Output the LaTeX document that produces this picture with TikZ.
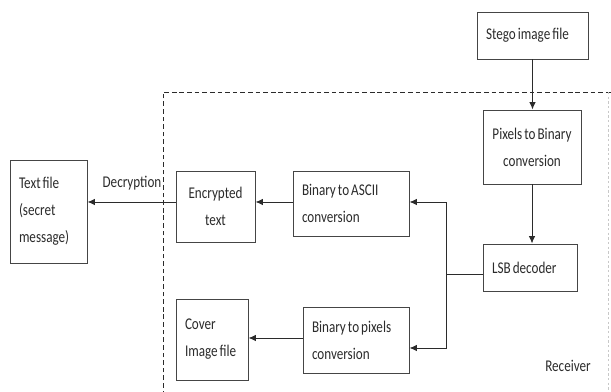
\documentclass[tikz,border=0pt]{standalone}
\usepackage{fontspec}
\setmainfont{Carlito}[FakeStretch=0.8, WordSpace=0.7]
\usetikzlibrary{arrows.meta,calc}
\definecolor{StegoInk}{HTML}{2B2B2B}
\definecolor{StegoEdge}{HTML}{454545}
\definecolor{StegoFaint}{HTML}{C8C8C8}
\tikzset{
  blockbox/.style={draw=StegoEdge, line width=0.8pt, fill=white, align=left,
                   inner xsep=0.27cm, font=\fontsize{14}{23}\selectfont\color{StegoInk},
                   execute at begin node={\spaceskip=0pt\xspaceskip=0pt}},
  centerbox/.style={blockbox, align=center},
  arrow/.style={-{Latex[length=2.2mm,width=1.9mm]}, line width=0.8pt, StegoInk},
  plainline/.style={line width=0.8pt, StegoInk},
  boundary/.style={line width=0.8pt, StegoInk, dash pattern=on 4pt off 2.5pt},
  note/.style={font=\fontsize{14}{23}\selectfont\color{StegoInk}},
}

\begin{document}
\begin{tikzpicture}
  \useasboundingbox (0,0) rectangle (18.33,11.76);

  % receiver boundary
  \draw[boundary] (4.89,-0.1) -- (4.89,9.0) -- (18.4,9.0);
  \draw[StegoFaint, line width=0.6pt, dash pattern=on 2pt off 2pt] (18.24,9.0) -- (18.24,-0.1);

  % blocks
  \node[blockbox, text width=2.79cm, minimum height=1.41cm] (stego) at (15.975,10.695) {Stego image file};
  \node[centerbox, minimum width=2.94cm, minimum height=2.22cm] (pix2bin) at (15.96,7.35) {Pixels to Binary\\conversion};
  \node[blockbox, text width=2.28cm, minimum height=1.41cm] (lsb) at (15.9,3.735) {LSB decoder};
  \node[blockbox, text width=2.94cm, minimum height=1.95cm] (asc) at (10.53,5.655) {Binary to ASCII\\conversion};
  \node[centerbox, minimum width=2.37cm, minimum height=2.13cm] (enc) at (6.465,5.565) {Encrypted\\text};
  \node[blockbox, text width=1.77cm, minimum height=3.09cm] (tf) at (1.455,5.415) {Text file\\(secret\\message)};
  \node[blockbox, text width=1.62cm, minimum height=2.43cm] (cover) at (6.36,1.575) {Cover\\\mbox{Image file}};
  \node[blockbox, text width=2.64cm, minimum height=1.98cm] (b2p) at (10.68,1.56) {Binary to pixels\\conversion};

  % labels
  \node[note] (declabel) at (3.96,6.27) {Decryption};
  \node[note] (rxlabel) at (17.04,0.78) {Receiver};

  % connectors
  \coordinate (rowmain) at (0,5.7);
  \coordinate (rowcover) at (0,1.62);
  \coordinate (split) at (13.38,3.54);
  \coordinate (b2pin) at ($(b2p.east)+(0,-0.24)$);

  \draw[arrow] (stego.south) -- (stego.south |- pix2bin.north);
  \draw[arrow] (pix2bin.south) -- (pix2bin.south |- lsb.north);
  \draw[plainline] (lsb.west |- split) -- (split);
  \draw[arrow] (split) |- (asc.east |- rowmain);
  \draw[arrow] (split) |- (b2pin);
  \draw[arrow] (asc.west |- rowmain) -- (enc.east |- rowmain);
  \draw[arrow] (enc.west |- rowmain) -- (tf.east |- rowmain);
  \draw[arrow] (b2p.west |- rowcover) -- (cover.east |- rowcover);

\end{tikzpicture}
\end{document}
